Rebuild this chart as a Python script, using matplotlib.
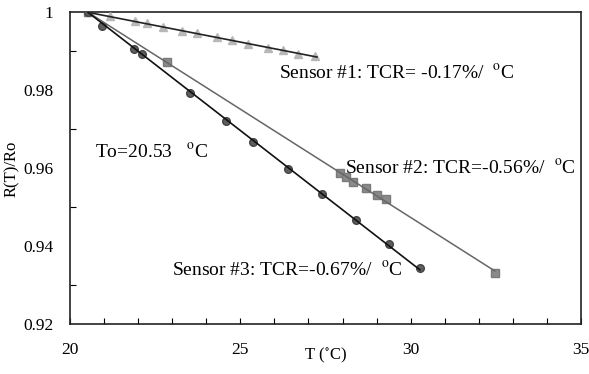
import numpy as np
import matplotlib
matplotlib.use("Agg")
import matplotlib.pyplot as plt
from matplotlib.ticker import MultipleLocator

plt.rcParams['font.family'] = ['Liberation Serif', 'DejaVu Serif']
plt.rcParams['mathtext.fontset'] = 'stix'

T0 = 20.53

# sensor #1 (triangles)
t1 = [20.54, 21.17, 21.91, 22.25, 22.74, 23.28, 23.72, 24.31, 24.75, 25.23, 25.82, 26.26, 26.70, 27.19]
r1 = [1.0000, 0.9990, 0.9977, 0.9972, 0.9962, 0.9951, 0.9946, 0.9936, 0.9929, 0.9919, 0.9909, 0.9903, 0.9894, 0.9887]
t1_fit = [20.53, 27.25]

# sensor #2 (squares)
t2 = [20.53, 22.84, 27.92, 28.09, 28.32, 28.68, 29.00, 29.27, 32.47]
r2 = [1.0000, 0.9873, 0.9587, 0.9579, 0.9566, 0.9549, 0.9532, 0.9521, 0.9332]
t2_fit = [20.53, 32.47]

# sensor #3 (circles)
t3 = [20.53, 20.95, 21.88, 22.10, 23.52, 24.58, 25.38, 26.39, 27.39, 28.41, 29.36, 30.27]
r3 = [1.0000, 0.9966, 0.9905, 0.9893, 0.9794, 0.9722, 0.9668, 0.9597, 0.9534, 0.9467, 0.9406, 0.9344]
t3_fit = [20.53, 30.27]

y_ticks = [0.92, 0.94, 0.96, 0.98, 1.0]
y_labels = ['0.92', '0.94', '0.96', '0.98', '1']


def fit_line(t, r, t_range):
    # least squares slope through (T0, 1)
    dt = np.array(t) - T0
    k = np.sum(dt * (np.array(r) - 1.0)) / np.sum(dt * dt)
    tt = np.array(t_range)
    return tt, 1.0 + k * (tt - T0)


fig = plt.figure(figsize=(5.89, 3.74), dpi=100, facecolor='white')
ax = fig.add_axes([0.1188, 0.1329, 0.8676, 0.8341])

ax.plot(t1, r1, linestyle='none', marker='^', ms=6, color='#b8b8b8', mec='#b8b8b8', zorder=3)
ax.plot(t2, r2, linestyle='none', marker='s', ms=6, color='#8a8a8a', mec='#7a7a7a', zorder=3)
ax.plot(t3, r3, linestyle='none', marker='o', ms=5.5, color='#5e5e5e', mec='#444444', zorder=3)

x, y = fit_line(t1, r1, t1_fit)
ax.plot(x, y, color='#222222', lw=1.2, zorder=4)
x, y = fit_line(t2, r2, t2_fit)
ax.plot(x, y, color='#666666', lw=1.1, zorder=4)
x, y = fit_line(t3, r3, t3_fit)
ax.plot(x, y, color='#111111', lw=1.2, zorder=4)

deg = r'$^{\mathrm{o}}$C'
ax.text(26.15, 0.9846, 'Sensor #1: TCR= -0.17%/  ' + deg, fontsize=14, va='center')
ax.text(28.07, 0.9601, 'Sensor #2: TCR=-0.56%/  ' + deg, fontsize=14, va='center')
ax.text(23.0, 0.9339, 'Sensor #3: TCR=-0.67%/  ' + deg, fontsize=14, va='center')
ax.text(20.73, 0.9642, 'To=20.53   ' + deg, fontsize=14, va='center')

ax.set_xlim(20, 35)
ax.set_ylim(0.92, 1.0)
ax.xaxis.set_major_locator(MultipleLocator(5))
ax.xaxis.set_minor_locator(MultipleLocator(1))
ax.set_yticks(y_ticks)
ax.set_yticklabels(y_labels)
ax.yaxis.set_minor_locator(MultipleLocator(0.01))
ax.tick_params(which='both', direction='in', top=False, right=False, labelsize=12.5)
ax.tick_params(axis='x', which='both', length=4, width=0.8, pad=13)
ax.tick_params(axis='y', which='major', length=0, pad=12)
ax.tick_params(axis='y', which='minor', length=4, width=0.8)
for s in ax.spines.values():
    s.set_linewidth(1.2)
    s.set_color('#222222')

ax.set_xlabel(r'T ($^{\circ}$C)', fontsize=12, labelpad=-9)
ax.set_ylabel('R(T)/Ro', fontsize=12, labelpad=2)

fig.savefig('out.png', dpi=100, facecolor='white')
